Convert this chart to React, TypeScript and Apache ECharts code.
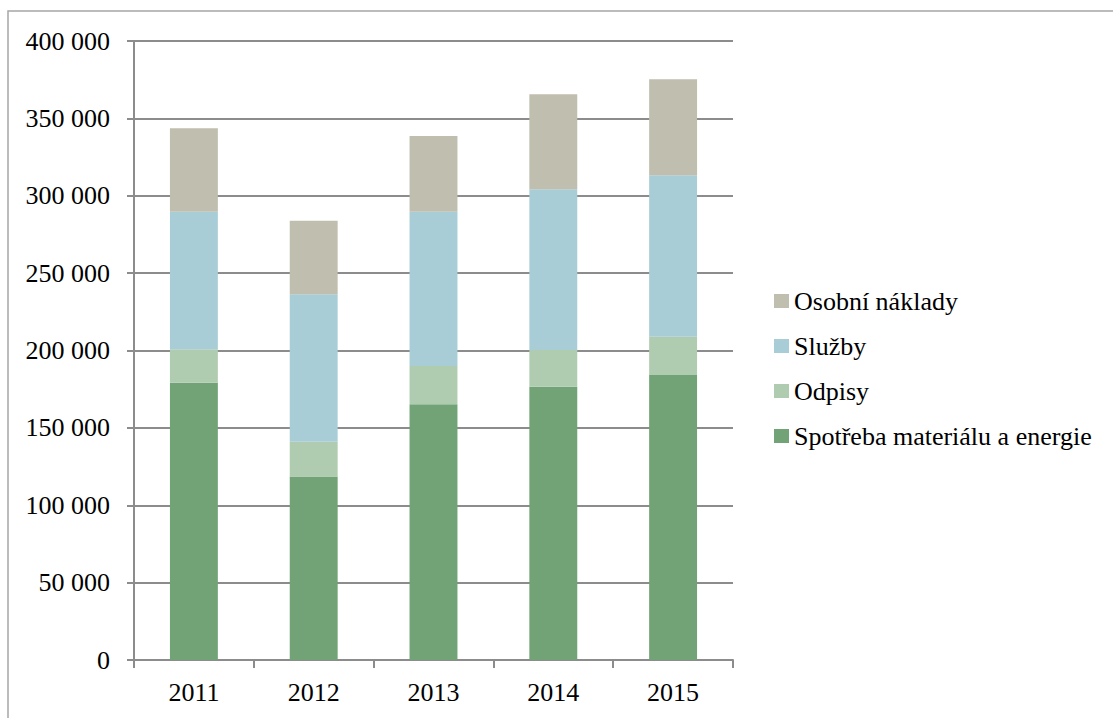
import React, { useEffect, useRef } from "react";
import * as echarts from "echarts";

// Cost structure by year (values in thousands of CZK)
const years = ["2011", "2012", "2013", "2014", "2015"];
const spotreba = [179200, 118500, 165200, 176600, 184200];
const odpisy = [21600, 22600, 24800, 23700, 24700];
const sluzby = [88900, 95200, 99700, 103900, 104300];
const osobni = [53900, 47600, 48900, 61400, 62100];

const seriesNames = [
  "Spotřeba materiálu a energie",
  "Odpisy",
  "Služby",
  "Osobní náklady",
];
const seriesColors = ["#71A377", "#B0CCB0", "#A9CDD7", "#C0BEAF"];
const legendOrder = ["Osobní náklady", "Služby", "Odpisy", "Spotřeba materiálu a energie"];

const FONT = "Liberation Serif";
const GRID_COLOR = "#8c8c8c";

const fmt = (v: number) =>
  String(v).replace(/\B(?=(\d{3})+(?!\d))/g, " ");

export default function App() {
  const ref = useRef<HTMLDivElement>(null);

  useEffect(() => {
    if (!ref.current) return;
    const chart = echarts.init(ref.current, undefined, { renderer: "svg" });
    const values = [spotreba, odpisy, sluzby, osobni];

    chart.setOption({
      animation: false,
      backgroundColor: "#ffffff",
      textStyle: { fontFamily: FONT },
      graphic: [
        {
          type: "rect",
          shape: { x: 8, y: 11, width: 1300, height: 900 },
          style: { fill: "none", stroke: "#a6a6a6", lineWidth: 1.5 },
          silent: true,
        },
      ],
      grid: { left: 134, top: 41, width: 599, height: 619, containLabel: false },
      legend: {
        orient: "vertical",
        left: 769,
        top: 283,
        itemWidth: 15,
        itemHeight: 14,
        itemGap: 19,
        icon: "rect",
        data: legendOrder,
        textStyle: { fontFamily: FONT, fontSize: 26, color: "#000" },
      },
      xAxis: {
        type: "category",
        data: years,
        axisLine: { show: true, lineStyle: { color: GRID_COLOR, width: 2 } },
        axisTick: { show: true, length: 8, lineStyle: { color: GRID_COLOR, width: 2 } },
        axisLabel: { fontFamily: FONT, fontSize: 26, color: "#000", margin: 19 },
      },
      yAxis: {
        type: "value",
        min: 0,
        max: 400000,
        interval: 50000,
        axisLine: { show: true, lineStyle: { color: GRID_COLOR, width: 2 } },
        axisTick: { show: true, length: 7, lineStyle: { color: GRID_COLOR, width: 2 } },
        splitLine: { show: true, lineStyle: { color: GRID_COLOR, width: 2 } },
        axisLabel: {
          fontFamily: FONT,
          fontSize: 26,
          color: "#000",
          margin: 24,
          formatter: (v: number) => fmt(v),
        },
      },
      series: seriesNames.map((name, i) => ({
        name,
        type: "bar",
        stack: "total",
        barWidth: "40%",
        data: values[i],
        itemStyle: { color: seriesColors[i] },
      })),
    });

    return () => chart.dispose();
  }, []);

  return (
    <div
      ref={ref}
      style={{ position: "absolute", left: 0, top: 0, width: 1113, height: 718 }}
    />
  );
}
